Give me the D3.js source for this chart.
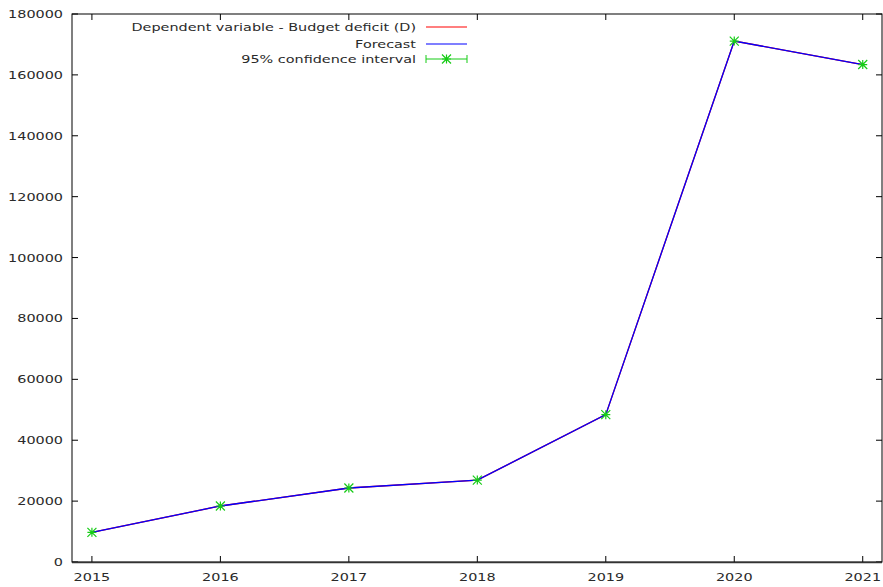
<!DOCTYPE html>
<html>
<head>
<meta charset="utf-8">
<script src="https://cdn.jsdelivr.net/npm/d3@7"></script>
<style>
  body { margin: 0; background: #fff; }
  text { font-family: "DejaVu Sans", sans-serif; font-size: 11px; fill: #2a2a2a; }
</style>
</head>
<body>
<div id="vis"></div>
<script>
// Budget deficit forecast, gnuplot style

var years    = [2015, 2016, 2017, 2018, 2019, 2020, 2021];
var actual   = [9750, 18400, 24300, 26900, 48400, 171100, 163400];
var forecast = [9750, 18400, 24300, 26900, 48400, 171100, 163400];
var ciLow    = [9750, 18400, 24300, 26900, 48400, 171100, 163400];
var ciHigh   = [9750, 18400, 24300, 26900, 48400, 171100, 163400];
var yTicks   = [0, 20000, 40000, 60000, 80000, 100000, 120000, 140000, 160000, 180000];
var legendLabels = ['Dependent variable - Budget deficit (D)', 'Forecast', '95% confidence interval'];

var W = 883, H = 587;
var margin = { top: 14, right: 1, bottom: 25, left: 72 };
var width  = W - margin.left - margin.right;
var height = H - margin.top - margin.bottom;
var sx = 1.31;   // the glyphs in the picture are stretched sideways
var green = '#16cc16';

var svg = d3.select('#vis').append('svg')
  .attr('width', W).attr('height', H);

var vis = svg.append('g')
  .attr('transform', `translate(${margin.left},${margin.top})`);

var xScale = d3.scaleLinear().domain([2014.845, 2021.15]).range([0, width]);
var yScale = d3.scaleLinear().domain([0, 180000]).range([height, 0]);

function stretchedText(g, x, y, str, anchor) {
  var t = g.append('g').attr('transform', `translate(${x},${y}) scale(${sx},1)`)
    .append('text').attr('text-anchor', anchor).text(str);
  return t;
}

// ticks, mirrored on all four sides, pointing inward
var tl = 6;
yTicks.forEach(v => {
  var y = yScale(v);
  vis.append('line').attr('x1', 0).attr('x2', tl).attr('y1', y).attr('y2', y).attr('stroke', '#000');
  vis.append('line').attr('x1', width).attr('x2', width - tl).attr('y1', y).attr('y2', y).attr('stroke', '#000');
  stretchedText(vis, -9, y + 4, v, 'end');
});
years.forEach(v => {
  var x = xScale(v);
  vis.append('line').attr('x1', x).attr('x2', x).attr('y1', height).attr('y2', height - tl).attr('stroke', '#000');
  vis.append('line').attr('x1', x).attr('x2', x).attr('y1', 0).attr('y2', tl).attr('stroke', '#000');
  stretchedText(vis, x, height + 19, v, 'middle');
});

// border
vis.append('rect').attr('width', width).attr('height', height)
  .attr('fill', 'none').attr('stroke', '#000').attr('stroke-width', 1);
vis.append('line').attr('x1', 0).attr('x2', width).attr('y1', height + 0.5).attr('y2', height + 0.5)
  .attr('stroke', '#333').attr('stroke-width', 1.5);

var line = d3.line().x((d, i) => xScale(years[i])).y(d => yScale(d));

vis.append('path').datum(actual).attr('d', line)
  .attr('fill', 'none').attr('stroke', '#ff0000').attr('stroke-width', 1.3);
vis.append('path').datum(forecast).attr('d', line)
  .attr('fill', 'none').attr('stroke', '#0000ff').attr('stroke-width', 1.3);

// confidence interval: error bars with star points
function star(g, x, y, r) {
  g.append('path')
    .attr('d', `M${x - r},${y}H${x + r}M${x},${y - r}V${y + r}` +
               `M${x - r},${y - r}L${x + r},${y + r}M${x - r},${y + r}L${x + r},${y - r}`)
    .attr('stroke', green).attr('stroke-width', 1.2).attr('fill', 'none');
}
years.forEach((yr, i) => {
  var x = xScale(yr);
  vis.append('line').attr('x1', x).attr('x2', x)
    .attr('y1', yScale(ciLow[i])).attr('y2', yScale(ciHigh[i]))
    .attr('stroke', green);
  star(vis, x, yScale(forecast[i]), 4.5);
});

// legend
var legend = svg.append('g');
var lx1 = 426, lx2 = 467, textRight = 416;
var rowY = [27, 44, 59];
var colors = ['#ff0000', '#0000ff', green];
legendLabels.forEach((lab, i) => {
  stretchedText(legend, textRight, rowY[i] + 4, lab, 'end');
  legend.append('line').attr('x1', lx1).attr('x2', lx2).attr('y1', rowY[i]).attr('y2', rowY[i])
    .attr('stroke', colors[i]).attr('stroke-width', 1.2);
});
legend.append('line').attr('x1', lx1).attr('x2', lx1).attr('y1', rowY[2] - 4).attr('y2', rowY[2] + 4).attr('stroke', green);
legend.append('line').attr('x1', lx2).attr('x2', lx2).attr('y1', rowY[2] - 4).attr('y2', rowY[2] + 4).attr('stroke', green);
star(legend, (lx1 + lx2) / 2, rowY[2], 4.5);
</script>
</body>
</html>
